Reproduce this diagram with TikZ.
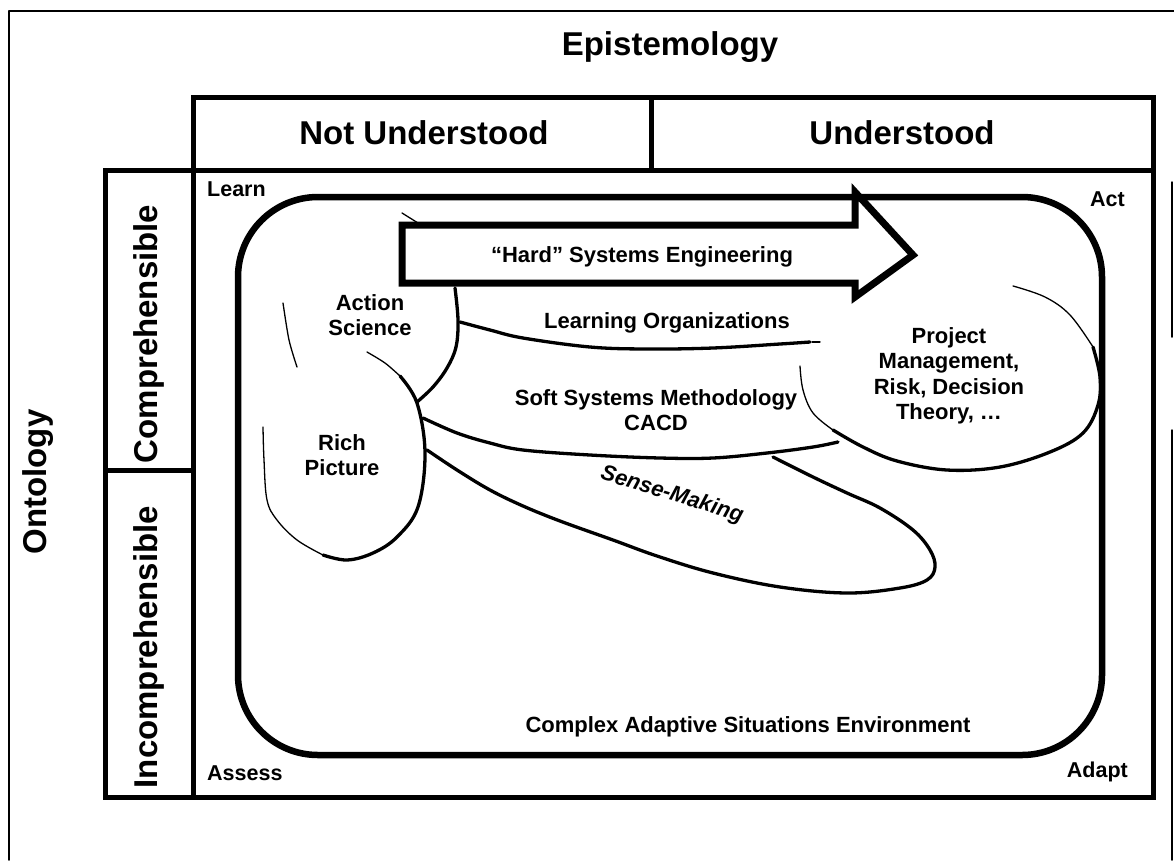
\documentclass[tikz,border=0pt]{standalone}
\usepackage{fontspec}
\setmainfont{Liberation Sans}
\begin{document}
\begin{tikzpicture}[x=1pt,y=-1pt,line cap=round,line join=round,
  big/.style={font=\fontsize{33}{38}\selectfont\bfseries,inner sep=0pt},
  lbl/.style={font=\fontsize{22}{25.5}\selectfont\bfseries,align=center,inner sep=0pt},
  corner/.style={font=\fontsize{21.5}{24}\selectfont\bfseries,inner sep=0pt},
  frameline/.style={line width=5pt,line cap=rect,line join=miter},
  outerline/.style={line width=1.5pt},
  roundbox/.style={line width=6.5pt,rounded corners=80pt},
  thickblob/.style={line width=3.3pt},
  thinblob/.style={line width=1.3pt},
  arrowshape/.style={line width=7pt,line join=miter,fill=white}]
\useasboundingbox (0,0) rectangle (1174,860);
\fill[white] (0,0) rectangle (1174,860);

% outer frame
\draw[outerline] (9,860) -- (9,11) -- (1174,11);
\draw[outerline] (1172,182) -- (1172,337) (1172,430) -- (1172,860);

% header boxes
\draw[frameline] (193,97) rectangle (1153,170);
\draw[frameline] (651,97) -- (651,170);
% main box
\draw[frameline] (105,170) rectangle (1153,797);
\draw[frameline] (193,170) -- (193,797);
\draw[frameline] (105,470) -- (193,470);

% environment rounded box
\draw[roundbox] (238,197) rectangle (1102,755);

% Action Science blob
\draw[thickblob] plot[smooth,tension=0.6] coordinates {(455,288) (458,320) (456,347) (447,368) (433,387) (417,402)};
\draw[thinblob] plot[smooth] coordinates {(283,303) (289,340) (297,367)};
\draw[thinblob] (402,213) -- (418,223);

% Rich Picture blob
\draw[thinblob] plot[smooth] coordinates {(367,352) (385,363) (400,376)};
\draw[thickblob] plot[smooth,tension=0.6] coordinates {(400,376) (417,403) (425,453) (418,507) (397,537) (373,553) (347,560) (323,555)};
\draw[thinblob] plot[smooth,tension=0.6] coordinates {(323,555) (297,540) (277,520) (267,500) (264,460) (263,427)};

% Learning Organizations curve
\draw[thickblob] plot[smooth,tension=0.6] coordinates {(460,322) (490,330) (523,338) (590,347) (647,349) (713,348) (780,344) (810,342)};
\draw[thinblob] (812,342) -- (820,342);

% Soft Systems Methodology curve
\draw[thickblob] plot[smooth,tension=0.6] coordinates {(423,418) (457,433) (490,443) (523,450) (590,455) (660,458) (713,458) (767,453) (813,447) (838,442)};

% Sense-Making blob
\draw[thickblob] plot[smooth,tension=0.6] coordinates {(427,450) (457,470) (490,490) (523,506) (560,521) (613,540) (657,556) (713,573) (780,587) (847,593) (900,588) (927,580) (935,567) (930,550) (913,530) (880,508) (847,493) (813,477) (773,457)};

% Project Management blob
\draw[thinblob] plot[smooth,tension=0.6] coordinates {(800,366) (803,390) (813,413) (833,430)};
\draw[thickblob] plot[smooth,tension=0.6] coordinates {(833,430) (863,447) (897,461) (947,470) (1000,467) (1050,452) (1083,433) (1098,405) (1100,377) (1093,347)};
\draw[thinblob] plot[smooth,tension=0.6] coordinates {(1093,347) (1070,315) (1045,297) (1013,286)};

% Hard systems engineering arrow
\draw[arrowshape] (402,225) -- (855,225) -- (855,192) -- (913,255) -- (855,297) -- (855,283) -- (402,283) -- cycle;

% texts
\node[big] (epi) at (670,47) {Epistemology};
\node[big] (nu) at (424,133) {Not Understood};
\node[big] (u) at (902,133) {Understood};
\node[big,rotate=90] (onto) at (38,482) {Ontology};
\node[big,rotate=90] (comp) at (149,334) {Comprehensible};
\node[big,rotate=90] (incomp) at (149,647) {Incomprehensible};

\node[corner,anchor=base west] (learn) at (207,196) {Learn};
\node[corner,anchor=base east] (act) at (1125,206) {Act};
\node[corner,anchor=base west] (assess) at (207,780) {Assess};
\node[corner,anchor=base east] (adapt) at (1128,777) {Adapt};

\node[lbl] (hse) at (642,257) {“Hard” Systems Engineering};
\node[lbl] (lo) at (667,323) {Learning Organizations};
\node[lbl] (ssm) at (656,410) {Soft Systems Methodology\\CACD};
\node[lbl] (pm) at (949,376) {Project\\Management,\\Risk, Decision\\Theory, \dots};
\node[lbl] (as) at (370,315) {Action\\Science};
\node[lbl] (rp) at (342,455) {Rich\\Picture};
\node[lbl] (case) at (748,727) {Complex Adaptive Situations Environment};
\node[lbl,font=\fontsize{22}{25.5}\selectfont\bfseries\itshape,rotate=-17] (sm) at (672,495) {Sense-Making};
\end{tikzpicture}
\end{document}
